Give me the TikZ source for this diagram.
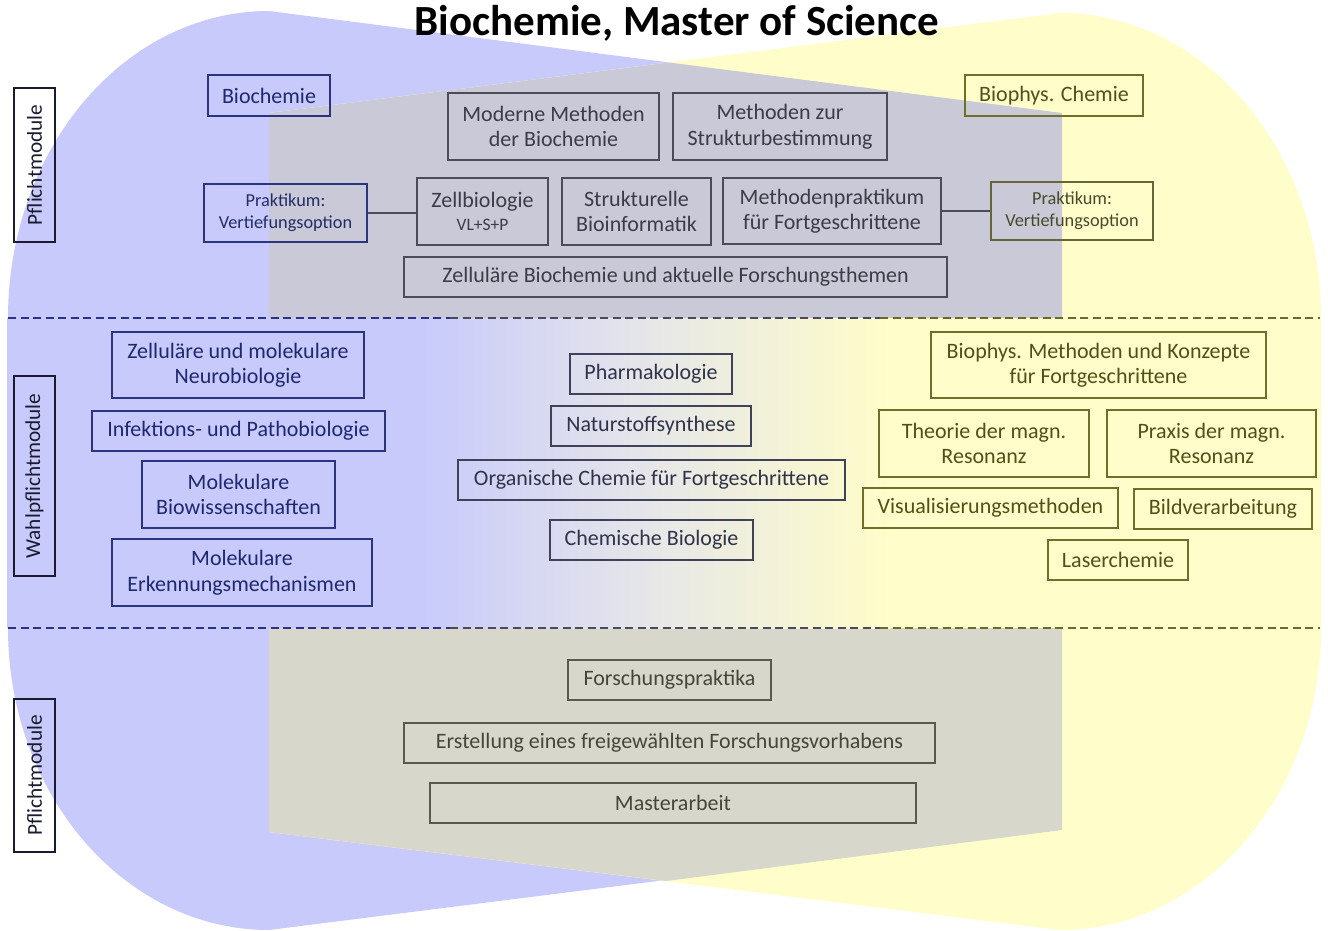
\documentclass[tikz,border=0pt]{standalone}
\usepackage{fontspec}
\setmainfont{Carlito}
\definecolor{bluF}{HTML}{C8CAFB}
\definecolor{yelF}{HTML}{FFFDC9}
\definecolor{topG}{HTML}{C9C9D7}
\definecolor{botG}{HTML}{D7D7CB}
\definecolor{midF}{HTML}{E7E7E8}
\definecolor{bluD}{HTML}{2A3480}
\definecolor{bluT}{HTML}{1E2870}
\definecolor{grD}{HTML}{4C4C58}
\definecolor{grT}{HTML}{3C3C48}
\definecolor{olD}{HTML}{6F6F2A}
\definecolor{olT}{HTML}{505018}
\definecolor{bgD}{HTML}{5A5A4C}
\definecolor{bgT}{HTML}{45453A}
\definecolor{mdD}{HTML}{40425A}
\definecolor{mdT}{HTML}{30334A}
\definecolor{dashB}{HTML}{29338A}
\definecolor{dashM}{HTML}{4A4A5A}
\definecolor{dashO}{HTML}{6A6A2A}
\definecolor{sideD}{HTML}{1A1A30}
\begin{document}
\begin{tikzpicture}[x=1pt,y=-1pt,
  box/.style={draw, line width=1.3pt, inner sep=0pt, align=center, font=\fontsize{22}{25.5}\selectfont},
  smallbox/.style={box, font=\fontsize{18.3}{22}\selectfont},
  sz/.style 2 args={minimum width=#1pt, minimum height=#2pt},
  bl/.style={draw=bluD, text=bluT},
  gr/.style={draw=grD, text=grT},
  ol/.style={draw=olD, text=olT},
  bg/.style={draw=bgD, text=bgT},
  md/.style={draw=mdD, text=mdT},
  side/.style={box, rotate=90, draw=sideD, text=sideD, font=\fontsize{21.3}{25}\selectfont},
  con/.style={line width=1.5pt, draw=grD},
  sep/.style={line width=1.5pt, dash pattern=on 8pt off 4.5pt}
]
\useasboundingbox (0,0) rectangle (1328,930);
% background shapes
\fill[bluF] (269,11) -- (1062,113) -- (1062,830) -- (269,930)
  arc[start angle=90, end angle=180, x radius=261, y radius=302] -- (8,318)
  arc[start angle=180, end angle=270, x radius=261, y radius=307] -- cycle;
\fill[yelF] (1060,13) arc[start angle=-90, end angle=0, x radius=261, y radius=305]
  -- (1321,628) arc[start angle=0, end angle=90, x radius=261, y radius=302]
  -- (269,832) -- (269,113) -- cycle;
\fill[topG] (269,113) -- (669,62.5) -- (1062,113) -- (1062,318) -- (269,318) -- cycle;
\fill[botG] (269,628) -- (1062,628) -- (1062,830) -- (666,881) -- (269,832) -- cycle;
% middle band
\fill[bluF] (7,318) rectangle (421,628);
\shade[left color=bluF, right color=midF] (420,318) rectangle (656,628);
\shade[left color=midF, right color=yelF] (655,318) rectangle (891,628);
\fill[yelF] (890,318) rectangle (1321,628);
% separators
\coordinate (s1a) at (8,318);
\coordinate (s1b) at (450,318);
\coordinate (s1c) at (880,318);
\coordinate (s1d) at (1320,318);
\coordinate (s2a) at (8,628);
\coordinate (s2b) at (450,628);
\coordinate (s2c) at (880,628);
\coordinate (s2d) at (1320,628);
\draw[sep, dashB] (s1a) -- (s1b);
\draw[sep, dashM] (s1b) -- (s1c);
\draw[sep, dashO] (s1c) -- (s1d);
\draw[sep, dashB] (s2a) -- (s2b);
\draw[sep, dashM] (s2b) -- (s2c);
\draw[sep, dashO] (s2c) -- (s2d);
% title
\node[font=\fontsize{43}{46}\selectfont\bfseries, text=black] (title) at (677,23) {Biochemie, Master of Science};
% side labels
\node[side, sz={154}{41}] (sl1) at (34.5,165) {Pflichtmodule};
\node[side, sz={200}{41}] (sl2) at (34.5,476) {Wahlpflichtmodule};
\node[side, sz={153}{41}] (sl3) at (34.5,775.5) {Pflichtmodule};
% top section
\node[box, bl, sz={122}{41}] (bio) at (269,95.5) {Biochemie};
\node[box, gr, sz={211}{67}] (mmb) at (553.5,126.5) {Moderne Methoden\\der Biochemie};
\node[box, gr, sz={214}{67}] (msb) at (780,126.5) {Methoden zur\\Strukturbestimmung};
\node[box, ol, sz={178}{41}] (bpc) at (1054,95.5) {Biophys. Chemie};
\node[smallbox, draw=bluD, text=bluT!80!grT, sz={163}{58}] (prl) at (285.5,213) {Praktikum:\\Vertiefungsoption};
\node[box, gr, sz={131}{67}] (zb) at (482.5,211.5) {Zellbiologie\\[-3pt]{\fontsize{17.5}{19}\selectfont VL+S+P}};
\node[box, gr, sz={149}{67}] (sbi) at (636.5,211.5) {Strukturelle\\Bioinformatik};
\node[box, gr, sz={218}{66}] (mpf) at (832,211) {Methodenpraktikum\\für Fortgeschrittene};
\node[smallbox, draw=olD!70!grD, text=olT!60!grT, sz={162}{58}] (prr) at (1072,211) {Praktikum:\\Vertiefungsoption};
\node[box, gr, sz={543}{40}] (zbf) at (675.5,277) {Zelluläre Biochemie und aktuelle Forschungsthemen};
\draw[con] (prl.east) -- (prl.east -| zb.west);
\draw[con] (mpf.east) -- (mpf.east -| prr.west);
% middle left
\node[box, bl, sz={252}{66}] (neu) at (238,365) {Zelluläre und molekulare\\Neurobiologie};
\node[box, bl, sz={293}{40}] (inf) at (238.5,431) {Infektions- und Pathobiologie};
\node[box, bl, sz={193}{67}] (mbw) at (238.5,494.5) {Molekulare\\Biowissenschaften};
\node[box, bl, sz={260}{67}] (mem) at (242,572.5) {Molekulare\\Erkennungsmechanismen};
% middle center
\node[box, md, sz={162}{40}] (pha) at (651,374) {Pharmakologie};
\node[box, md, sz={200}{40}] (nat) at (651,426) {Naturstoffsynthese};
\node[box, md, sz={387}{40}] (oc) at (651.5,480) {Organische Chemie für Fortgeschrittene};
\node[box, md, sz={203}{40}] (cb) at (651.5,540) {Chemische Biologie};
% right
\node[box, ol, sz={335}{66}] (bmk) at (1098.5,365) {Biophys. Methoden und Konzepte\\für Fortgeschrittene};
\node[box, ol, sz={210}{67}] (tmr) at (984,443.5) {Theorie der magn.\\Resonanz};
\node[box, ol, sz={209}{67}] (pmr) at (1211.5,443.5) {Praxis der magn.\\Resonanz};
\node[box, ol, sz={255}{40}] (vis) at (990.5,508) {Visualisierungsmethoden};
\node[box, ol, sz={178}{40}] (bv) at (1223,509) {Bildverarbeitung};
\node[box, ol, sz={140}{40}] (las) at (1118,560) {Laserchemie};
% bottom
\node[box, bg, sz={203}{40}] (fp) at (669.5,680) {Forschungspraktika};
\node[box, bg, sz={531}{40}] (efv) at (669.5,743) {Erstellung eines freigewählten Forschungsvorhabens};
\node[box, bg, sz={486}{40}] (ma) at (673,803) {Masterarbeit};
\end{tikzpicture}
\end{document}
